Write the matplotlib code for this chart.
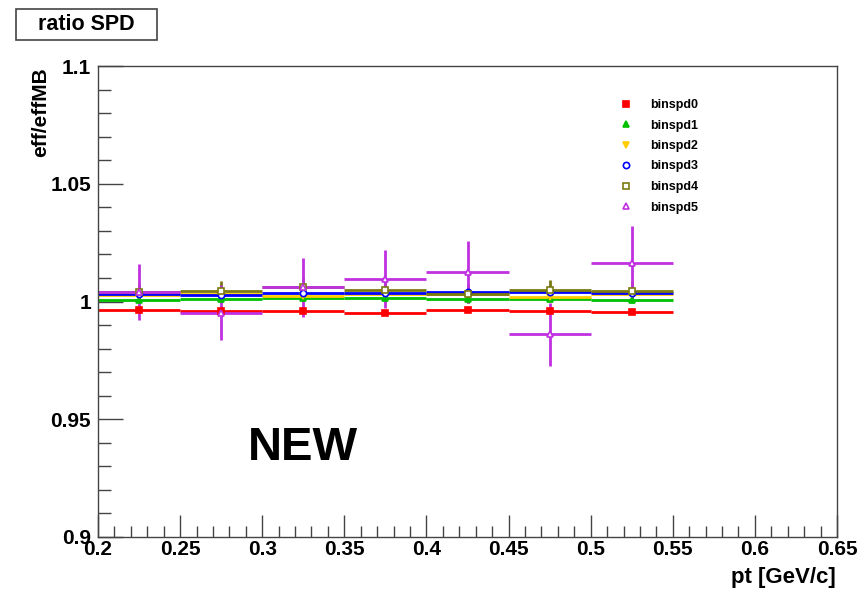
import matplotlib
matplotlib.use("Agg")
import matplotlib.pyplot as plt
from matplotlib.ticker import MultipleLocator
from matplotlib.lines import Line2D
from matplotlib.patches import Rectangle

plt.rcParams['font.family'] = ['Liberation Sans', 'DejaVu Sans']

# ---- data ----
pt_centers = [0.225, 0.275, 0.325, 0.375, 0.425, 0.475, 0.525]
bin_half_width = 0.025
series_names = ["binspd0", "binspd1", "binspd2", "binspd3", "binspd4", "binspd5"]
binspd0 = [0.9963, 0.9960, 0.9958, 0.9951, 0.9962, 0.9960, 0.9956]
binspd1 = [1.0007, 1.0010, 1.0013, 1.0014, 1.0010, 1.0011, 1.0008]
binspd2 = [1.0028, 1.0030, 1.0024, 1.0030, 1.0030, 1.0021, 1.0030]
binspd3 = [1.0030, 1.0028, 1.0038, 1.0036, 1.0040, 1.0040, 1.0036]
binspd4 = [1.0040, 1.0045, 1.0060, 1.0047, 1.0033, 1.0047, 1.0045]
binspd5 = [1.0040, 0.9953, 1.0060, 1.0095, 1.0125, 0.9860, 1.0165]
err0 = [0.0008, 0.0008, 0.0008, 0.0008, 0.0008, 0.0008, 0.0008]
err1 = [0.0015, 0.0015, 0.0015, 0.0015, 0.0015, 0.0015, 0.0015]
err2 = [0.0025, 0.0025, 0.0025, 0.0025, 0.0025, 0.0025, 0.0025]
err3 = [0.0030, 0.0030, 0.0030, 0.0030, 0.0030, 0.0030, 0.0030]
err4 = [0.0040, 0.0040, 0.0040, 0.0040, 0.0040, 0.0043, 0.0040]
err5 = [0.0118, 0.0117, 0.0125, 0.0122, 0.0130, 0.0132, 0.0155]
values = [binspd0, binspd1, binspd2, binspd3, binspd4, binspd5]
errors = [err0, err1, err2, err3, err4, err5]
colors = ["#ff0000", "#00c000", "#ffcc00", "#0000ff", "#7a7a10", "#c030e0"]
markers = ["s", "^", "v", "o", "s", "^"]
filled = [True, True, True, False, False, False]

fig = plt.figure(figsize=(8.66, 5.91), dpi=100)
ax = fig.add_axes([98/866, 1-537/591, (837-98)/866, (537-66)/591])

handles = []
for name, v, e, c, m, f in zip(series_names, values, errors, colors, markers, filled):
    fc = c if f else "white"
    ax.errorbar(pt_centers, v, xerr=bin_half_width, yerr=e, fmt=m, color=c,
                ecolor=c, elinewidth=2.0, capsize=0, markersize=4.5,
                markerfacecolor=fc, markeredgecolor=c, markeredgewidth=1.2)
    handles.append(Line2D([], [], linestyle='none', marker=m, markersize=4.5,
                          markerfacecolor=fc, markeredgecolor=c,
                          markeredgewidth=1.2, label=name))

ax.set_xlim(0.2, 0.65)
ax.set_ylim(0.9, 1.1)
ax.xaxis.set_major_locator(MultipleLocator(0.05))
ax.xaxis.set_minor_locator(MultipleLocator(0.01))
ax.yaxis.set_major_locator(MultipleLocator(0.05))
ax.yaxis.set_minor_locator(MultipleLocator(0.01))
fmt = matplotlib.ticker.FuncFormatter(lambda v, p: f"{v:g}")
ax.xaxis.set_major_formatter(fmt)
ax.yaxis.set_major_formatter(fmt)
ax.tick_params(axis='both', which='both', direction='in', top=False, right=False,
               color='#444444', width=1.0)
ax.tick_params(axis='x', which='major', length=16, pad=2)
ax.tick_params(axis='x', which='minor', length=8)
ax.tick_params(axis='y', which='major', length=18, pad=5)
ax.tick_params(axis='y', which='minor', length=9)
for lab in ax.get_yticklabels():
    lab.set_fontweight('bold')
    lab.set_fontsize(15)
for lab in ax.get_xticklabels():
    lab.set_fontweight('bold')
    lab.set_fontsize(15)
for sp in ax.spines.values():
    sp.set_color('#444444')
    sp.set_linewidth(1.0)

leg = ax.legend(handles=handles, loc='upper left',
                bbox_to_anchor=((615-98)/(837-98), (537-94)/(537-66)),
                frameon=False, fontsize=9, handlelength=1.0, handletextpad=1.4,
                labelspacing=0.68, borderaxespad=0)
for t in leg.get_texts():
    t.set_fontweight('bold')

ax.text(0.2912, 0.9325, "NEW", fontsize=34, fontweight='bold', ha='left', va='baseline')

fig.text(41/866, 1-67/591, "eff/effMB", rotation=90, ha='center', va='top',
         fontsize=15, fontweight='bold')
fig.text(836/866, 1-577/591, "pt [GeV/c]", ha='right', va='center',
         fontsize=16, fontweight='bold')
fig.patches.append(Rectangle((16/866, 1-40/591), (157-16)/866, 31/591,
                             transform=fig.transFigure, facecolor='white',
                             edgecolor='#444444', linewidth=1.2))
fig.text(86/866, 1-25/591, "ratio SPD", ha='center', va='center', fontsize=15.5,
         fontweight='bold')

fig.savefig("out.png", dpi=100)
